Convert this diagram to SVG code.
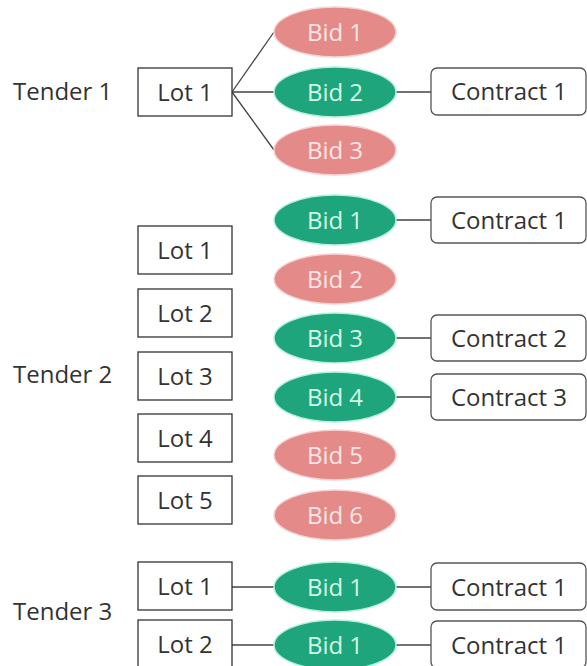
<svg xmlns="http://www.w3.org/2000/svg" width="587" height="666" viewBox="0 0 587 666">
  <style>
    text { font-family: "Open Sans", "Noto Sans", "DejaVu Sans", sans-serif; font-size: 24px; }
    .label { fill: #333333; }
    .lot rect { fill: #ffffff; stroke: #333333; stroke-width: 1.3; }
    .lot text { fill: #333333; text-anchor: middle; }
    .contract rect { fill: #ffffff; stroke: #555555; stroke-width: 1.3; }
    .contract text { fill: #333333; text-anchor: middle; }
    .won ellipse { fill: #1fa57b; stroke: #b4f2dc; stroke-width: 1.5; }
    .won text { fill: #d4f7e8; text-anchor: middle; }
    .lost ellipse { fill: #e48b89; stroke: #f6d3d2; stroke-width: 1.5; }
    .lost text { fill: #fbe6e5; text-anchor: middle; }
    #connectors line { stroke: #444444; stroke-width: 1.3; }
  </style>

  <!-- Connectors -->
  <g id="connectors">
    <!-- Tender 1 -->
    <line x1="232" y1="92" x2="274" y2="32"/>
    <line x1="232" y1="92" x2="274" y2="92"/>
    <line x1="232" y1="92" x2="274" y2="150"/>
    <line x1="396" y1="92" x2="431" y2="92"/>
    <!-- Tender 2 -->
    <line x1="396" y1="220" x2="431" y2="220"/>
    <line x1="396" y1="338" x2="431" y2="338"/>
    <line x1="396" y1="397" x2="431" y2="397"/>
    <!-- Tender 3 -->
    <line x1="232" y1="587" x2="274" y2="587"/>
    <line x1="396" y1="587" x2="431" y2="587"/>
    <line x1="232" y1="645" x2="274" y2="645"/>
    <line x1="396" y1="645" x2="431" y2="645"/>
  </g>

  <!-- Tender labels -->
  <g id="tender1"><text class="label" x="13" y="100">Tender 1</text></g>
  <g id="tender2"><text class="label" x="13" y="383">Tender 2</text></g>
  <g id="tender3"><text class="label" x="13" y="620">Tender 3</text></g>

  <!-- Tender 1 nodes -->
  <g id="t1-lot1" class="lot"><rect x="138" y="68" width="94" height="48"/><text x="185" y="101">Lot 1</text></g>
  <g id="t1-bid1" class="lost"><ellipse cx="335" cy="32" rx="61" ry="25"/><text x="335" y="41">Bid 1</text></g>
  <g id="t1-bid2" class="won"><ellipse cx="335" cy="92" rx="61" ry="25"/><text x="335" y="101">Bid 2</text></g>
  <g id="t1-bid3" class="lost"><ellipse cx="335" cy="150" rx="61" ry="25"/><text x="335" y="159">Bid 3</text></g>
  <g id="t1-contract1" class="contract"><rect x="431" y="68" width="155" height="47" rx="6"/><text x="509" y="100">Contract 1</text></g>

  <!-- Tender 2 nodes -->
  <g id="t2-lot1" class="lot"><rect x="138" y="226" width="94" height="48"/><text x="185" y="259">Lot 1</text></g>
  <g id="t2-lot2" class="lot"><rect x="138" y="289" width="94" height="48"/><text x="185" y="322">Lot 2</text></g>
  <g id="t2-lot3" class="lot"><rect x="138" y="352" width="94" height="48"/><text x="185" y="385">Lot 3</text></g>
  <g id="t2-lot4" class="lot"><rect x="138" y="414" width="94" height="48"/><text x="185" y="447">Lot 4</text></g>
  <g id="t2-lot5" class="lot"><rect x="138" y="476" width="94" height="48"/><text x="185" y="509">Lot 5</text></g>

  <g id="t2-bid1" class="won"><ellipse cx="335" cy="220" rx="61" ry="25"/><text x="335" y="229">Bid 1</text></g>
  <g id="t2-bid2" class="lost"><ellipse cx="335" cy="279" rx="61" ry="25"/><text x="335" y="288">Bid 2</text></g>
  <g id="t2-bid3" class="won"><ellipse cx="335" cy="338" rx="61" ry="25"/><text x="335" y="347">Bid 3</text></g>
  <g id="t2-bid4" class="won"><ellipse cx="335" cy="397" rx="61" ry="25"/><text x="335" y="406">Bid 4</text></g>
  <g id="t2-bid5" class="lost"><ellipse cx="335" cy="455" rx="61" ry="25"/><text x="335" y="464">Bid 5</text></g>
  <g id="t2-bid6" class="lost"><ellipse cx="335" cy="515" rx="61" ry="25"/><text x="335" y="524">Bid 6</text></g>

  <g id="t2-contract1" class="contract"><rect x="431" y="197" width="155" height="46" rx="6"/><text x="509" y="229">Contract 1</text></g>
  <g id="t2-contract2" class="contract"><rect x="431" y="315" width="155" height="46" rx="6"/><text x="509" y="347">Contract 2</text></g>
  <g id="t2-contract3" class="contract"><rect x="431" y="374" width="155" height="46" rx="6"/><text x="509" y="406">Contract 3</text></g>

  <!-- Tender 3 nodes -->
  <g id="t3-lot1" class="lot"><rect x="138" y="562" width="94" height="48"/><text x="185" y="595">Lot 1</text></g>
  <g id="t3-lot2" class="lot"><rect x="138" y="620" width="94" height="48"/><text x="185" y="653">Lot 2</text></g>
  <g id="t3-bid1a" class="won"><ellipse cx="335" cy="587" rx="61" ry="25"/><text x="335" y="596">Bid 1</text></g>
  <g id="t3-bid1b" class="won"><ellipse cx="335" cy="645" rx="61" ry="25"/><text x="335" y="654">Bid 1</text></g>
  <g id="t3-contract1a" class="contract"><rect x="431" y="563" width="155" height="47" rx="6"/><text x="509" y="596">Contract 1</text></g>
  <g id="t3-contract1b" class="contract"><rect x="431" y="621" width="155" height="47" rx="6"/><text x="509" y="654">Contract 1</text></g>
</svg>
